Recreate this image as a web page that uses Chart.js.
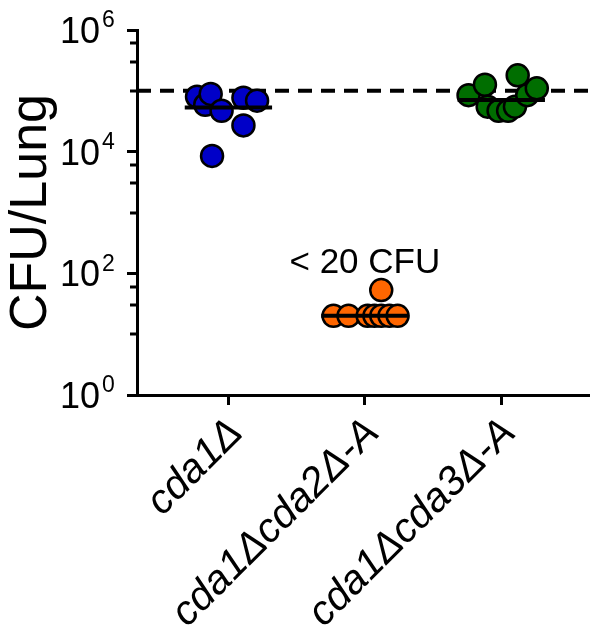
<!DOCTYPE html>
<html>
<head>
<meta charset="utf-8">
<script src="https://cdn.jsdelivr.net/npm/chart.js@4.4.0/dist/chart.umd.min.js"></script>
<style>
  html, body { margin: 0; padding: 0; background: #fff; }
</style>
</head>
<body>
<canvas id="cfuChart" width="590" height="626"></canvas>
<script>
const groups = ["cda1\u0394", "cda1\u0394cda2\u0394-A", "cda1\u0394cda3\u0394-A"];
const yTicks = [1, 1e2, 1e4, 1e6];
const yMinorTicks = [10, 30, 60, 1e3, 3e3, 6e3, 1e5, 3e5, 6e5];

// CFU per lung, one value per mouse; jitter = horizontal spread inside the group
const cda1Values = [8.0e4, 5.9e4, 8.9e4, 4.7e4, 7.7e4, 6.9e4, 2.7e4, 8.5e3];
const cda1Jitter = [-0.23, -0.17, -0.13, -0.05, 0.11, 0.21, 0.11, -0.12];
const cda2Values = [20, 20, 20, 20, 20, 20, 20, 53];
const cda2Jitter = [-0.23, -0.12, 0.02, 0.07, 0.12, 0.18, 0.24, 0.12];
const cda3Values = [8.5e4, 1.26e5, 5.5e4, 4.7e4, 4.7e4, 1.8e5, 5.5e4, 8.5e4, 1.1e5];
const cda3Jitter = [-0.24, -0.12, -0.10, -0.02, 0.05, 0.12, 0.10, 0.19, 0.26];
const medians = [5.3e4, 20, 7.1e4];
const inoculum = 1e5;
const limitLabel = "< 20 CFU";

const font = '"Liberation Sans", Arial, sans-serif';
const colors = ["#0000c8", "#ff6600", "#006e00"];

const points = (vals, jit, g) => vals.map((v, i) => ({ x: g + 1 + jit[i], y: v }));

const groupSets = [
  [cda1Values, cda1Jitter],
  [cda2Values, cda2Jitter],
  [cda3Values, cda3Jitter],
].map(([vals, jit], g) => ({
  type: "scatter",
  data: points(vals, jit, g),
  backgroundColor: colors[g],
  borderColor: "#000",
  borderWidth: 2.5,
  pointRadius: 11,
  order: 1,
}));

const medianSets = medians.map((m, g) => ({
  type: "line",
  data: [{ x: g + 1 - 0.32, y: m }, { x: g + 1 + 0.32, y: m }],
  borderColor: "#000",
  borderWidth: 4,
  pointRadius: 0,
  order: 0,
}));

const inoculumSet = {
  type: "line",
  data: [{ x: 0.33, y: inoculum }, { x: 3.65, y: inoculum }],
  borderColor: "#000",
  borderWidth: 4,
  borderDash: [14, 9],
  pointRadius: 0,
  order: 2,
};

// minor ticks, 10^n labels and the detection-limit note
const extras = {
  id: "extras",
  afterDraw(chart) {
    const { ctx, scales: { x, y } } = chart;
    ctx.save();
    ctx.fillStyle = "#000";
    ctx.strokeStyle = "#000";
    ctx.lineWidth = 3;
    yMinorTicks.forEach(v => {
      const py = Math.round(y.getPixelForValue(v));
      ctx.beginPath();
      ctx.moveTo(y.right - 7, py);
      ctx.lineTo(y.right, py);
      ctx.stroke();
    });
    yTicks.forEach(v => {
      const py = y.getPixelForValue(v);
      ctx.textBaseline = "middle";
      ctx.font = "36px " + font;
      ctx.textAlign = "right";
      ctx.fillText("10", y.right - 37, py + 3);
      ctx.font = "23px " + font;
      ctx.textAlign = "left";
      ctx.fillText(String(Math.round(Math.log10(v))), y.right - 35, py - 9);
    });
    ctx.font = "35px " + font;
    ctx.textAlign = "center";
    ctx.textBaseline = "middle";
    ctx.fillText(limitLabel, x.getPixelForValue(2), y.getPixelForValue(145));
    ctx.restore();
  },
};

const cfuChart = new Chart(document.getElementById("cfuChart").getContext("2d"), {
  data: { datasets: [...medianSets, ...groupSets, inoculumSet] },
  options: {
    responsive: false,
    animation: false,
    layout: { autoPadding: false, padding: { top: 30, left: 0, right: 0, bottom: 0 } },
    plugins: { legend: { display: false }, tooltip: { enabled: false } },
    scales: {
      x: {
        type: "linear",
        min: 0.33,
        max: 3.65,
        afterBuildTicks: s => { s.ticks = groups.map((g, i) => ({ value: i + 1 })); },
        afterFit: s => { s.height = 231; s.paddingLeft = 0; s.paddingRight = 0; },
        ticks: {
          callback: (v, i) => groups[i],
          autoSkip: false,
          minRotation: 45,
          maxRotation: 45,
          color: "#000",
          padding: 4,
          labelOffset: 8,
          font: { family: font, size: 41, style: "italic" },
        },
        grid: { drawOnChartArea: false, tickLength: 10, tickWidth: 3, tickColor: "#000" },
        border: { width: 3, color: "#000" },
      },
      y: {
        type: "logarithmic",
        min: 1,
        max: 1e6,
        afterBuildTicks: s => { s.ticks = yTicks.map(v => ({ value: v })); },
        afterFit: s => { s.width = 137; },
        ticks: { display: false },
        grid: { drawOnChartArea: false, tickLength: 10, tickWidth: 3, tickColor: "#000" },
        border: { width: 3, color: "#000" },
        title: {
          display: true,
          text: "CFU/Lung",
          color: "#000",
          font: { family: font, size: 52 },
          padding: { top: 0, bottom: 0 },
        },
      },
    },
  },
  plugins: [extras],
});
</script>
</body>
</html>
